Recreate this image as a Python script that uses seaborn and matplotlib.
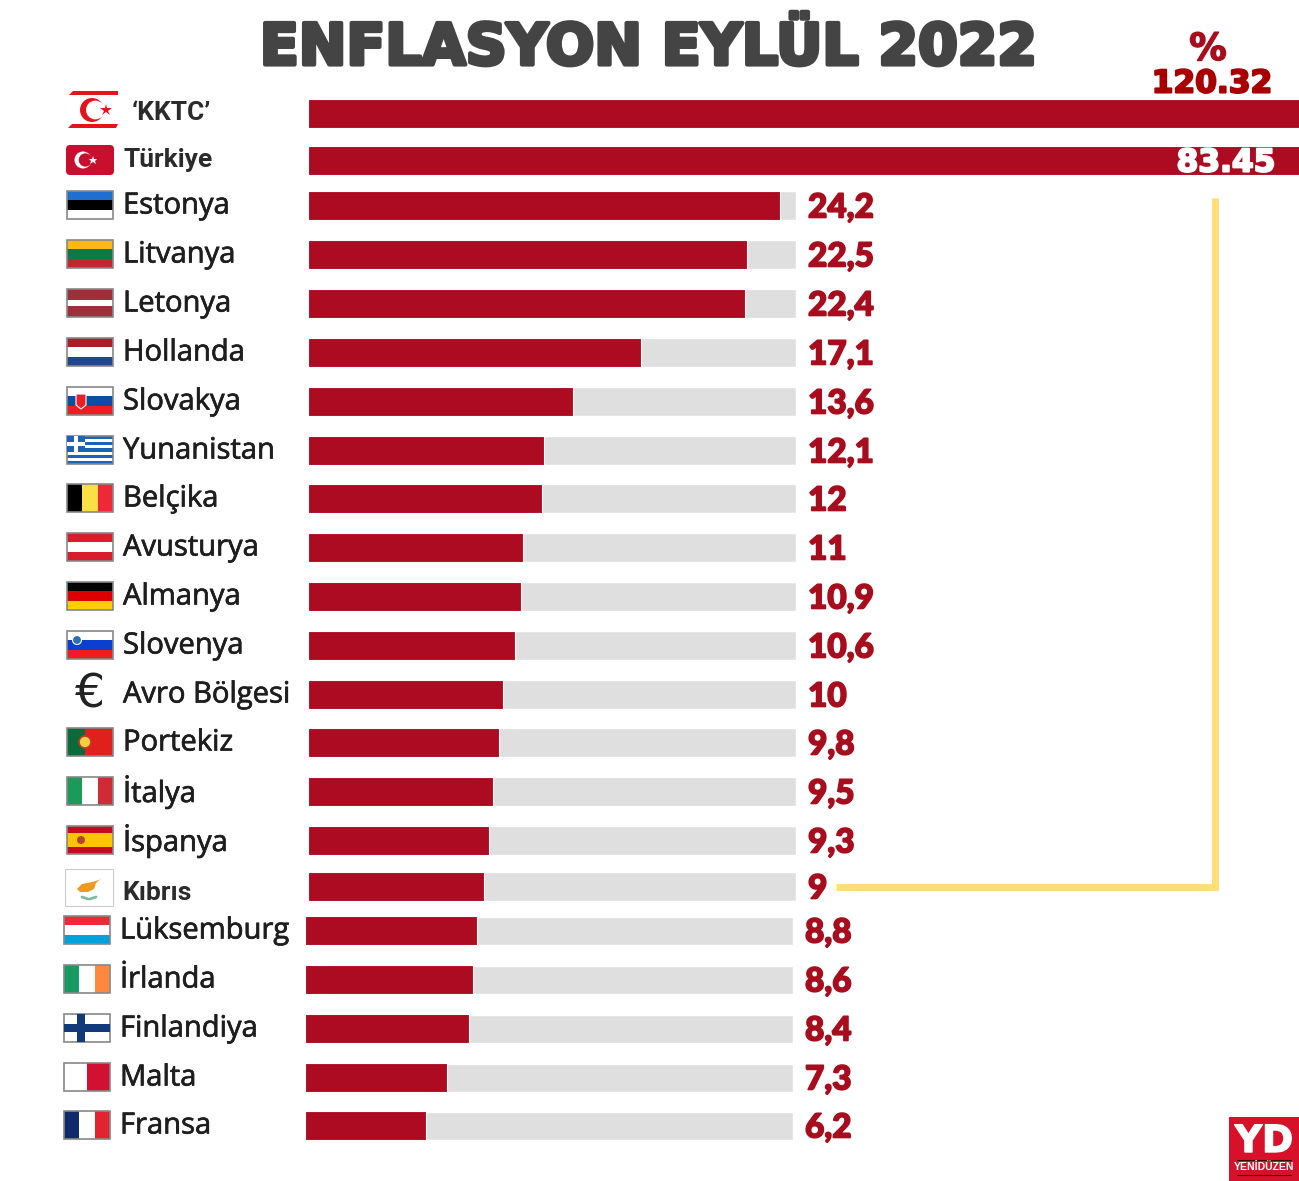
import matplotlib
matplotlib.use("Agg")
import matplotlib.pyplot as plt
import matplotlib.patheffects as pe
from matplotlib.patches import Rectangle, Circle, Polygon, FancyBboxPatch
import pandas as pd
import seaborn as sns

sns.set_theme(style="white")

RED = '#ad0b22'
GREY = '#dfdfdf'
VAL_RED = '#a80d1e'
INK = '#2b2b2b'
PX_PER_UNIT = 19.5
W, H = 1299, 1181

rows = [
    ("'KKTC'", 120.32, 113), ('Türkiye', 83.45, 160), ('Estonya', 24.2, 205),
    ('Litvanya', 22.5, 254), ('Letonya', 22.4, 303), ('Hollanda', 17.1, 352),
    ('Slovakya', 13.6, 401), ('Yunanistan', 12.1, 450), ('Belçika', 12, 498),
    ('Avusturya', 11, 547), ('Almanya', 10.9, 596), ('Slovenya', 10.6, 645),
    ('Avro Bölgesi', 10, 694), ('Portekiz', 9.8, 742), ('İtalya', 9.5, 791),
    ('İspanya', 9.3, 840), ('Kıbrıs', 9, 886), ('Lüksemburg', 8.8, 930),
    ('İrlanda', 8.6, 979), ('Finlandiya', 8.4, 1028), ('Malta', 7.3, 1077),
    ('Fransa', 6.2, 1125),
]
df = pd.DataFrame(rows, columns=['country', 'value', 'ypos'])
df['scale'] = 25

fig = plt.figure(figsize=(W / 100, H / 100), dpi=100, facecolor='white')

# the last five rows sit 3 px further left in the original layout
groups = [(df[df.ypos <= 886], 0), (df[df.ypos > 886], -3)]
for part, shift in groups:
    ax = fig.add_axes([shift / W, 0, 1, 1])
    ax.patch.set_alpha(0)
    spacing = part.ypos.diff().min()
    grey = part[part.value <= 25]
    sns.barplot(data=grey, x='scale', y='ypos', orient='y', native_scale=True,
                color=GREY, saturation=1, width=28 / spacing, ax=ax)
    sns.barplot(data=part, x='value', y='ypos', orient='y', native_scale=True,
                color=RED, saturation=1, width=29 / spacing, ax=ax,
                edgecolor='white', linewidth=0.8)
    ax.set_xlim(-308 / PX_PER_UNIT, 991 / PX_PER_UNIT)
    ax.set_ylim(H - 0.5, -0.5)
    ax.axis('off')

# pixel overlay for text, flags and logo
px = fig.add_axes([0, 0, 1, 1])
px.patch.set_alpha(0)
px.set_xlim(0, W)
px.set_ylim(H, 0)
px.axis('off')


def hflag(x, y, colors, w=46, h=28):
    n = len(colors)
    for i, c in enumerate(colors):
        px.add_patch(Rectangle((x, y - h / 2 + i * h / n), w, h / n, fc=c, lw=0))
    px.add_patch(Rectangle((x, y - h / 2), w, h, fc='none', ec='#888888', lw=1.2))


def vflag(x, y, colors, w=46, h=28):
    n = len(colors)
    for i, c in enumerate(colors):
        px.add_patch(Rectangle((x + i * w / n, y - h / 2), w / n, h, fc=c, lw=0))
    px.add_patch(Rectangle((x, y - h / 2), w, h, fc='none', ec='#888888', lw=1.2))


def crescent(cx, cy, r, bg, fg='white', star=None):
    px.add_patch(Circle((cx, cy), r, fc=fg, lw=0))
    px.add_patch(Circle((cx + r * 0.28, cy), r * 0.78, fc=bg, lw=0))
    px.plot([cx + r * 1.15], [cy], marker='*', ms=r * 0.75, color=star or fg, mew=0)


# KKTC
px.add_patch(Polygon([(73, 91), (118, 91), (118, 95), (69, 95)], fc='#e2141c', lw=0))
px.add_patch(Polygon([(72, 124), (118, 124), (116, 128), (68, 128)], fc='#e2141c', lw=0))
crescent(92, 110, 12, 'white', '#e2141c')
# Türkiye
px.add_patch(FancyBboxPatch((66, 145), 48, 30, boxstyle='round,pad=0,rounding_size=4', fc='#c8102e', lw=0))
crescent(83, 160, 8.5, '#c8102e')

hflag(67, 205, ['#1f6fd0', '#000000', '#ffffff'])
hflag(67, 254, ['#fdb913', '#0a7a4a', '#c1272d'])
hflag(67, 303, ['#9e3039', '#9e3039', '#ffffff', '#9e3039', '#9e3039'])
hflag(67, 352, ['#ae1c28', '#ffffff', '#21468b'])
hflag(67, 401, ['#ffffff', '#0b4ea2', '#ee1c25'])
px.add_patch(Polygon([(76, 394), (86, 394), (86, 405), (81, 409), (76, 405)], fc='#ee1c25', ec='white', lw=0.8))
hflag(67, 450, ['#1a63b8', '#ffffff'] * 4 + ['#1a63b8'])
px.add_patch(Rectangle((67, 436), 18, 16, fc='#1a63b8', lw=0))
px.add_patch(Rectangle((74, 436), 4, 16, fc='white', lw=0))
px.add_patch(Rectangle((67, 442), 18, 4, fc='white', lw=0))
vflag(67, 498, ['#000000', '#fae042', '#ed2939'])
hflag(67, 547, ['#d81e2c', '#ffffff', '#d81e2c'])
hflag(67, 596, ['#000000', '#dd0000', '#ffce00'])
hflag(67, 645, ['#ffffff', '#0a3fd0', '#ee1c25'])
px.add_patch(Circle((77, 640), 4.5, fc='#2d6db5', ec='white', lw=0.8))
px.text(90, 695, '€', fontsize=34, family='DejaVu Sans', color='#222222', ha='center', va='center')
vflag(67, 742, ['#0a6a3a', '#0a6a3a', '#e0201b', '#e0201b', '#e0201b'])
px.add_patch(Circle((85, 742), 6, fc='#f4d03f', ec='#c0392b', lw=1.2))
vflag(67, 791, ['#1c9b58', '#ffffff', '#ce2b37'])
hflag(67, 840, ['#c60b1e', '#ffc400', '#ffc400', '#c60b1e'])
px.add_patch(Circle((81, 840), 4, fc='#b5452a', lw=0))
# Kıbrıs
px.add_patch(Rectangle((65, 869), 48, 37, fc='white', ec='#cccccc', lw=0.8))
px.add_patch(Polygon([(77, 889), (82, 884), (92, 882), (99, 880), (103, 877), (96, 883), (94, 889),
                      (88, 892), (80, 892)], fc='#ee9a1f', lw=0))
px.plot([82, 88], [897, 899], color='#7fb9a0', lw=2)
px.plot([96, 90], [897, 899], color='#7fb9a0', lw=2)

hflag(64, 930, ['#ed2939', '#ffffff', '#00a1de'])
vflag(64, 979, ['#169b62', '#ffffff', '#ff883e'])
hflag(64, 1028, ['#ffffff', '#ffffff', '#ffffff'])
px.add_patch(Rectangle((64, 1024), 46, 8, fc='#123a7a', lw=0))
px.add_patch(Rectangle((77, 1014), 8, 28, fc='#123a7a', lw=0))
vflag(64, 1077, ['#ffffff', '#d21034'])
vflag(64, 1125, ['#0f2a6b', '#ffffff', '#e1242f'])

# country names
for row in df.itertuples():
    shift = -3 if row.ypos > 886 else 0
    name = row.country
    if name in ("'KKTC'", 'Türkiye', 'Kıbrıs'):
        label_x = {"'KKTC'": 132, 'Türkiye': 124, 'Kıbrıs': 122}[name]
        txt = name.replace("'KKTC'", '‘KKTC’')
        px.text(label_x, row.ypos + (0 if name != 'Kıbrıs' else 7), txt, family='Roboto',
                fontweight='bold', fontsize=19, color=INK, va='center')
    else:
        px.text(123 + shift, row.ypos + 1, name, family='Open Sans', fontweight='medium',
                fontsize=21, color='#1e1e1e', va='center',
                path_effects=[pe.withStroke(linewidth=0.5, foreground='#1e1e1e')])

# value labels
stroke = [pe.withStroke(linewidth=1.2, foreground=VAL_RED)]
for row in df.iloc[2:].itertuples():
    shift = -3 if row.ypos > 886 else 0
    label = f'{row.value:g}'.replace('.', ',')
    px.text(808 + shift, row.ypos + 3, label, family='Lato', fontweight='black', fontsize=24,
            color=VAL_RED, va='center', path_effects=stroke)

px.text(1226, 163, '83.45', family='DejaVu Sans', fontweight='bold', fontsize=22.5, color='white',
        ha='center', va='center', path_effects=[pe.withStroke(linewidth=1.5, foreground='white')])
px.text(1212, 84, '120.32', family='DejaVu Sans', fontweight='bold', fontsize=22.5, color='#a80000',
        ha='center', va='center', path_effects=[pe.withStroke(linewidth=1.5, foreground='#a80000')])
px.text(1208, 50, '%', family='DejaVu Sans', fontweight='bold', fontsize=27, color=VAL_RED,
        ha='center', va='center', path_effects=[pe.withStroke(linewidth=1, foreground=VAL_RED)])

# title
px.text(649, 49, 'ENFLASYON EYLÜL 2022', family='DejaVu Sans', fontweight='bold', fontsize=41,
        color='#444444', ha='center', va='center',
        path_effects=[pe.withStroke(linewidth=3, foreground='#444444')])

# yellow bracket from Kıbrıs up to the top rows
px.plot([836, 1215, 1215], [887, 887, 198], color='#ffdd77', lw=5, solid_joinstyle='miter', solid_capstyle='butt')

# logo
px.add_patch(Rectangle((1229, 1117), 70, 64, fc='#d8112a', lw=0))
px.text(1264, 1142, 'YD', family='DejaVu Sans', fontweight='bold', fontsize=27, color='white',
        ha='center', va='center', path_effects=[pe.withStroke(linewidth=1, foreground='white')])
px.plot([1237, 1291], [1160, 1160], color='#3a0a0a', lw=0.8)
px.plot([1237, 1291], [1175, 1175], color='#3a0a0a', lw=0.8)
px.text(1264, 1167.5, 'YENİDÜZEN', family='Liberation Sans', fontweight='bold', fontsize=7.5,
        color='white', ha='center', va='center')

plt.savefig('out.png', dpi=100)
plt.close()
